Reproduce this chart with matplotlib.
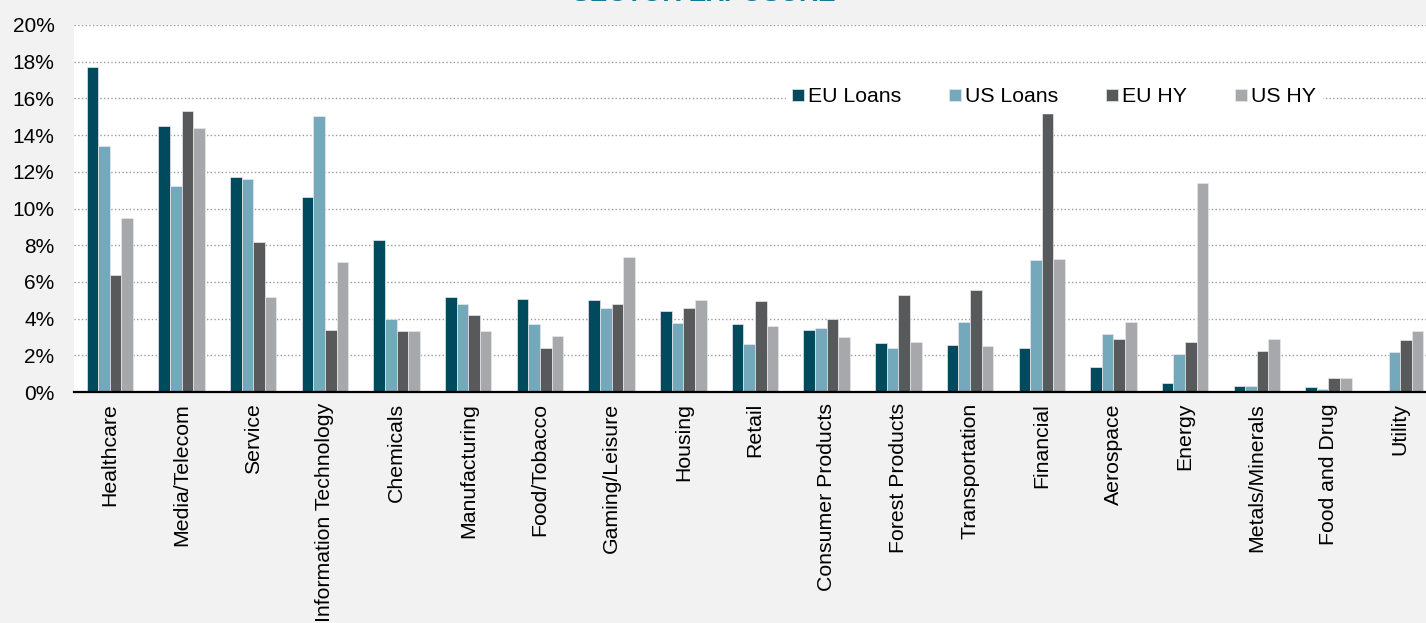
import matplotlib
matplotlib.use("Agg")
import matplotlib.pyplot as plt
import matplotlib.ticker as ticker
import numpy as np

plt.rcParams['font.family'] = ['Liberation Sans', 'DejaVu Sans']

# sector exposure (% of portfolio)
sectors = ['Healthcare', 'Media/Telecom', 'Service', 'Information Technology',
           'Chemicals', 'Manufacturing', 'Food/Tobacco', 'Gaming/Leisure',
           'Housing', 'Retail', 'Consumer Products', 'Forest Products',
           'Transportation', 'Financial', 'Aerospace', 'Energy',
           'Metals/Minerals', 'Food and Drug', 'Utility']
eu_loans = [17.7, 14.5, 11.7, 10.6, 8.3, 5.15, 5.05, 5.0, 4.4, 3.7, 3.4,
            2.67, 2.55, 2.42, 1.37, 0.5, 0.33, 0.27, 0.0]
us_loans = [13.4, 11.2, 11.6, 15.05, 4.0, 4.8, 3.7, 4.57, 3.77, 2.63, 3.47,
            2.38, 3.8, 7.18, 3.14, 2.07, 0.33, 0.15, 2.16]
eu_hy = [6.4, 15.3, 8.17, 3.37, 3.32, 4.17, 2.42, 4.77, 4.56, 4.98, 3.96,
         5.3, 5.55, 15.22, 2.87, 2.71, 2.24, 0.75, 2.82]
us_hy = [9.5, 14.4, 5.2, 7.07, 3.32, 3.32, 3.07, 7.35, 5.0, 3.57, 2.98,
         2.72, 2.52, 7.27, 3.81, 11.37, 2.89, 0.75, 3.31]

series = [('EU Loans', eu_loans, '#004a5e'),
          ('US Loans', us_loans, '#74a8bb'),
          ('EU HY', eu_hy, '#58595b'),
          ('US HY', us_hy, '#a7a8ab')]

fig = plt.figure(figsize=(14.26, 6.23), dpi=100, facecolor='#f2f2f2')
ax = fig.add_axes([74 / 1426, 1 - 392 / 623, 1362 / 1426, 367 / 623])
ax.set_facecolor('white')

x = np.arange(len(sectors))
w = 0.162
for i, (name, vals, col) in enumerate(series):
    ax.bar(x + (i - 1.5) * w, vals, width=w, color=col, label=name,
           edgecolor='#e8e8e8', linewidth=0.5, zorder=3)

ax.set_xlim(-0.5, len(sectors) - 0.5)
ax.set_ylim(0, 20)
ax.yaxis.set_major_locator(ticker.MultipleLocator(2))
ax.yaxis.set_major_formatter(ticker.FuncFormatter(lambda v, p: f'{v:.0f}%'))
ax.grid(axis='y', linestyle=':', color='#9a9a9a', linewidth=1, zorder=0)
ax.set_axisbelow(True)

for s in ['left', 'top', 'right']:
    ax.spines[s].set_visible(False)
ax.spines['bottom'].set_color('black')
ax.spines['bottom'].set_linewidth(1.6)
ax.spines['bottom'].set_zorder(4)

ax.set_xticks(x)
ax.set_xticklabels(sectors, rotation=90, ha='center', va='top', fontsize=15.3)
ax.tick_params(axis='x', length=0, pad=8)
ax.tick_params(axis='y', length=0, pad=14, labelsize=15)

leg = ax.legend(loc='center', bbox_to_anchor=(1054 / 1426, 1 - 97 / 623),
                bbox_transform=fig.transFigure, ncol=4, fontsize=15.3,
                frameon=True, fancybox=False, handlelength=0.55,
                handleheight=0.55, handletextpad=0.2, columnspacing=2.25,
                borderpad=0.3)
leg.get_frame().set_facecolor('white')
leg.get_frame().set_edgecolor('white')
leg.get_frame().set_alpha(1)

# title sits mostly above the top edge, as in the source image
fig.text(704 / 1426, 1 - 1 / 623, 'SECTOR EXPOSURE', ha='center',
         va='baseline', fontsize=19, fontweight='bold', color='#177a95')

fig.savefig('out.png', dpi=100, facecolor=fig.get_facecolor())
